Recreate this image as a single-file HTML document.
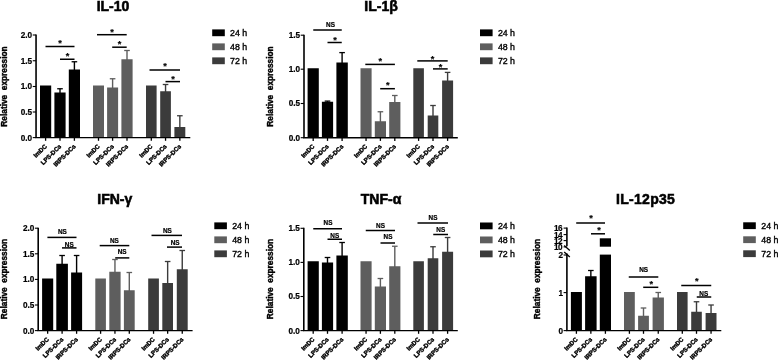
<!DOCTYPE html>
<html><head><meta charset="utf-8"><title>Relative expression</title>
<style>
html,body{margin:0;padding:0;background:#fff;}
body{width:778px;height:361px;overflow:hidden;}
svg{display:block;font-family:'Liberation Sans', sans-serif;}
</style></head><body>
<svg width="778" height="361" viewBox="0 0 778 361" font-family="'Liberation Sans', sans-serif">
<rect x="0" y="0" width="778" height="361" fill="#fff"/>
<text x="113.00" y="11.30" font-size="14" font-weight="bold" text-anchor="middle" stroke="#000" stroke-width="0.55">IL-10</text>
<rect x="40.00" y="85.50" width="11.20" height="52.10" fill="#000000"/>
<line x1="45.60" y1="137.60" x2="45.60" y2="140.80" stroke="#000" stroke-width="1.3"/>
<line x1="60.00" y1="88.75" x2="60.00" y2="93.50" stroke="#000000" stroke-width="1.4"/>
<line x1="57.20" y1="88.75" x2="62.80" y2="88.75" stroke="#000000" stroke-width="1.3"/>
<rect x="54.40" y="92.50" width="11.20" height="45.10" fill="#000000"/>
<line x1="60.00" y1="137.60" x2="60.00" y2="140.80" stroke="#000" stroke-width="1.3"/>
<line x1="74.40" y1="61.75" x2="74.40" y2="70.50" stroke="#000000" stroke-width="1.4"/>
<line x1="71.60" y1="61.75" x2="77.20" y2="61.75" stroke="#000000" stroke-width="1.3"/>
<rect x="68.80" y="69.50" width="11.20" height="68.10" fill="#000000"/>
<line x1="74.40" y1="137.60" x2="74.40" y2="140.80" stroke="#000" stroke-width="1.3"/>
<rect x="93.00" y="85.50" width="11.00" height="52.10" fill="#5e5e5e"/>
<line x1="98.50" y1="137.60" x2="98.50" y2="140.80" stroke="#000" stroke-width="1.3"/>
<line x1="112.60" y1="78.75" x2="112.60" y2="88.50" stroke="#5e5e5e" stroke-width="1.4"/>
<line x1="109.80" y1="78.75" x2="115.40" y2="78.75" stroke="#5e5e5e" stroke-width="1.3"/>
<rect x="107.10" y="87.50" width="11.00" height="50.10" fill="#5e5e5e"/>
<line x1="112.60" y1="137.60" x2="112.60" y2="140.80" stroke="#000" stroke-width="1.3"/>
<line x1="127.00" y1="50.50" x2="127.00" y2="60.25" stroke="#5e5e5e" stroke-width="1.4"/>
<line x1="124.20" y1="50.50" x2="129.80" y2="50.50" stroke="#5e5e5e" stroke-width="1.3"/>
<rect x="121.40" y="59.25" width="11.20" height="78.35" fill="#5e5e5e"/>
<line x1="127.00" y1="137.60" x2="127.00" y2="140.80" stroke="#000" stroke-width="1.3"/>
<rect x="146.00" y="85.50" width="10.60" height="52.10" fill="#3b3b3b"/>
<line x1="151.30" y1="137.60" x2="151.30" y2="140.80" stroke="#000" stroke-width="1.3"/>
<line x1="165.55" y1="84.50" x2="165.55" y2="92.25" stroke="#3b3b3b" stroke-width="1.4"/>
<line x1="162.75" y1="84.50" x2="168.35" y2="84.50" stroke="#3b3b3b" stroke-width="1.3"/>
<rect x="160.20" y="91.25" width="10.70" height="46.35" fill="#3b3b3b"/>
<line x1="165.55" y1="137.60" x2="165.55" y2="140.80" stroke="#000" stroke-width="1.3"/>
<line x1="179.85" y1="115.75" x2="179.85" y2="128.00" stroke="#3b3b3b" stroke-width="1.4"/>
<line x1="177.05" y1="115.75" x2="182.65" y2="115.75" stroke="#3b3b3b" stroke-width="1.3"/>
<rect x="174.40" y="127.00" width="10.90" height="10.60" fill="#3b3b3b"/>
<line x1="179.85" y1="137.60" x2="179.85" y2="140.80" stroke="#000" stroke-width="1.3"/>
<text transform="translate(43.90,143.40) rotate(-45)" font-size="6.1" font-weight="bold" text-anchor="end" dominant-baseline="hanging" stroke="#000" stroke-width="0.4">ImDC</text>
<text transform="translate(58.30,143.40) rotate(-45)" font-size="6.1" font-weight="bold" text-anchor="end" dominant-baseline="hanging" stroke="#000" stroke-width="0.4">LPS-DCs</text>
<text transform="translate(72.70,143.40) rotate(-45)" font-size="6.1" font-weight="bold" text-anchor="end" dominant-baseline="hanging" stroke="#000" stroke-width="0.4">IRPS-DCs</text>
<text transform="translate(96.80,143.40) rotate(-45)" font-size="6.1" font-weight="bold" text-anchor="end" dominant-baseline="hanging" stroke="#000" stroke-width="0.4">ImDC</text>
<text transform="translate(110.90,143.40) rotate(-45)" font-size="6.1" font-weight="bold" text-anchor="end" dominant-baseline="hanging" stroke="#000" stroke-width="0.4">LPS-DCs</text>
<text transform="translate(125.30,143.40) rotate(-45)" font-size="6.1" font-weight="bold" text-anchor="end" dominant-baseline="hanging" stroke="#000" stroke-width="0.4">IRPS-DCs</text>
<text transform="translate(149.60,143.40) rotate(-45)" font-size="6.1" font-weight="bold" text-anchor="end" dominant-baseline="hanging" stroke="#000" stroke-width="0.4">ImDC</text>
<text transform="translate(163.85,143.40) rotate(-45)" font-size="6.1" font-weight="bold" text-anchor="end" dominant-baseline="hanging" stroke="#000" stroke-width="0.4">LPS-DCs</text>
<text transform="translate(178.15,143.40) rotate(-45)" font-size="6.1" font-weight="bold" text-anchor="end" dominant-baseline="hanging" stroke="#000" stroke-width="0.4">IRPS-DCs</text>
<line x1="35.25" y1="137.60" x2="190.30" y2="137.60" stroke="#000" stroke-width="1.4"/>
<line x1="36.05" y1="34.50" x2="36.05" y2="137.60" stroke="#000" stroke-width="1.6"/>
<line x1="32.75" y1="137.60" x2="36.05" y2="137.60" stroke="#000" stroke-width="1.1"/>
<text x="32.15" y="140.50" font-size="8.2" font-weight="bold" text-anchor="end" stroke="#000" stroke-width="0.2">0.0</text>
<line x1="32.75" y1="112.00" x2="36.05" y2="112.00" stroke="#000" stroke-width="1.1"/>
<text x="32.15" y="114.90" font-size="8.2" font-weight="bold" text-anchor="end" stroke="#000" stroke-width="0.2">0.5</text>
<line x1="32.75" y1="86.50" x2="36.05" y2="86.50" stroke="#000" stroke-width="1.1"/>
<text x="32.15" y="89.40" font-size="8.2" font-weight="bold" text-anchor="end" stroke="#000" stroke-width="0.2">1.0</text>
<line x1="32.75" y1="60.75" x2="36.05" y2="60.75" stroke="#000" stroke-width="1.1"/>
<text x="32.15" y="63.65" font-size="8.2" font-weight="bold" text-anchor="end" stroke="#000" stroke-width="0.2">1.5</text>
<line x1="32.75" y1="35.00" x2="36.05" y2="35.00" stroke="#000" stroke-width="1.1"/>
<text x="32.15" y="37.90" font-size="8.2" font-weight="bold" text-anchor="end" stroke="#000" stroke-width="0.2">2.0</text>
<line x1="45.50" y1="46.50" x2="74.50" y2="46.50" stroke="#000" stroke-width="1.5"/>
<text x="60.00" y="46.20" font-size="9.2" font-weight="bold" text-anchor="middle" stroke="#000" stroke-width="0.2">*</text>
<line x1="60.00" y1="59.25" x2="74.50" y2="59.25" stroke="#000" stroke-width="1.5"/>
<text x="67.50" y="59.20" font-size="9.2" font-weight="bold" text-anchor="middle" stroke="#000" stroke-width="0.2">*</text>
<line x1="97.00" y1="34.70" x2="126.70" y2="34.70" stroke="#000" stroke-width="1.5"/>
<text x="112.00" y="34.50" font-size="9.2" font-weight="bold" text-anchor="middle" stroke="#000" stroke-width="0.2">*</text>
<line x1="112.20" y1="47.20" x2="126.70" y2="47.20" stroke="#000" stroke-width="1.5"/>
<text x="119.50" y="47.20" font-size="9.2" font-weight="bold" text-anchor="middle" stroke="#000" stroke-width="0.2">*</text>
<line x1="149.50" y1="70.00" x2="180.00" y2="70.00" stroke="#000" stroke-width="1.5"/>
<text x="165.00" y="69.20" font-size="9.2" font-weight="bold" text-anchor="middle" stroke="#000" stroke-width="0.2">*</text>
<line x1="165.50" y1="81.60" x2="180.00" y2="81.60" stroke="#000" stroke-width="1.5"/>
<text x="173.00" y="81.90" font-size="9.2" font-weight="bold" text-anchor="middle" stroke="#000" stroke-width="0.2">*</text>
<text transform="translate(7.10,86.50) rotate(-90)" font-size="8.3" font-weight="bold" text-anchor="middle" stroke="#000" stroke-width="0.4">Relative&#160;&#160;expression</text>
<rect x="212.20" y="29.40" width="12.60" height="6.80" fill="#000000"/>
<text x="230.00" y="36.00" font-size="8.8" font-weight="normal" text-anchor="start" stroke="#000" stroke-width="0.35">24 h</text>
<rect x="212.20" y="43.40" width="12.60" height="6.80" fill="#5e5e5e"/>
<text x="230.00" y="50.00" font-size="8.8" font-weight="normal" text-anchor="start" stroke="#000" stroke-width="0.35">48 h</text>
<rect x="212.20" y="57.40" width="12.60" height="6.80" fill="#3b3b3b"/>
<text x="230.00" y="64.00" font-size="8.8" font-weight="normal" text-anchor="start" stroke="#000" stroke-width="0.35">72 h</text>
<rect x="480.00" y="29.40" width="12.60" height="6.80" fill="#000000"/>
<text x="497.90" y="36.00" font-size="8.8" font-weight="normal" text-anchor="start" stroke="#000" stroke-width="0.35">24 h</text>
<rect x="480.00" y="43.40" width="12.60" height="6.80" fill="#5e5e5e"/>
<text x="497.90" y="50.00" font-size="8.8" font-weight="normal" text-anchor="start" stroke="#000" stroke-width="0.35">48 h</text>
<rect x="480.00" y="57.40" width="12.60" height="6.80" fill="#3b3b3b"/>
<text x="497.90" y="64.00" font-size="8.8" font-weight="normal" text-anchor="start" stroke="#000" stroke-width="0.35">72 h</text>
<text x="381.00" y="11.30" font-size="14" font-weight="bold" text-anchor="middle" stroke="#000" stroke-width="0.55">IL-1β</text>
<rect x="307.60" y="68.25" width="11.20" height="69.45" fill="#000000"/>
<line x1="313.20" y1="137.70" x2="313.20" y2="140.90" stroke="#000" stroke-width="1.3"/>
<line x1="327.50" y1="101.10" x2="327.50" y2="102.75" stroke="#000000" stroke-width="1.4"/>
<line x1="324.70" y1="101.10" x2="330.30" y2="101.10" stroke="#000000" stroke-width="1.3"/>
<rect x="321.90" y="101.75" width="11.20" height="35.95" fill="#000000"/>
<line x1="327.50" y1="137.70" x2="327.50" y2="140.90" stroke="#000" stroke-width="1.3"/>
<line x1="342.10" y1="52.60" x2="342.10" y2="63.50" stroke="#000000" stroke-width="1.4"/>
<line x1="339.30" y1="52.60" x2="344.90" y2="52.60" stroke="#000000" stroke-width="1.3"/>
<rect x="336.40" y="62.50" width="11.40" height="75.20" fill="#000000"/>
<line x1="342.10" y1="137.70" x2="342.10" y2="140.90" stroke="#000" stroke-width="1.3"/>
<rect x="360.50" y="68.25" width="11.10" height="69.45" fill="#5e5e5e"/>
<line x1="366.05" y1="137.70" x2="366.05" y2="140.90" stroke="#000" stroke-width="1.3"/>
<line x1="380.40" y1="111.75" x2="380.40" y2="122.25" stroke="#5e5e5e" stroke-width="1.4"/>
<line x1="377.60" y1="111.75" x2="383.20" y2="111.75" stroke="#5e5e5e" stroke-width="1.3"/>
<rect x="374.80" y="121.25" width="11.20" height="16.45" fill="#5e5e5e"/>
<line x1="380.40" y1="137.70" x2="380.40" y2="140.90" stroke="#000" stroke-width="1.3"/>
<line x1="394.80" y1="95.50" x2="394.80" y2="103.00" stroke="#5e5e5e" stroke-width="1.4"/>
<line x1="392.00" y1="95.50" x2="397.60" y2="95.50" stroke="#5e5e5e" stroke-width="1.3"/>
<rect x="389.20" y="102.00" width="11.20" height="35.70" fill="#5e5e5e"/>
<line x1="394.80" y1="137.70" x2="394.80" y2="140.90" stroke="#000" stroke-width="1.3"/>
<rect x="413.30" y="68.25" width="10.60" height="69.45" fill="#3b3b3b"/>
<line x1="418.60" y1="137.70" x2="418.60" y2="140.90" stroke="#000" stroke-width="1.3"/>
<line x1="433.00" y1="105.50" x2="433.00" y2="116.50" stroke="#3b3b3b" stroke-width="1.4"/>
<line x1="430.20" y1="105.50" x2="435.80" y2="105.50" stroke="#3b3b3b" stroke-width="1.3"/>
<rect x="427.70" y="115.50" width="10.60" height="22.20" fill="#3b3b3b"/>
<line x1="433.00" y1="137.70" x2="433.00" y2="140.90" stroke="#000" stroke-width="1.3"/>
<line x1="447.60" y1="72.40" x2="447.60" y2="81.50" stroke="#3b3b3b" stroke-width="1.4"/>
<line x1="444.80" y1="72.40" x2="450.40" y2="72.40" stroke="#3b3b3b" stroke-width="1.3"/>
<rect x="442.10" y="80.50" width="11.00" height="57.20" fill="#3b3b3b"/>
<line x1="447.60" y1="137.70" x2="447.60" y2="140.90" stroke="#000" stroke-width="1.3"/>
<text transform="translate(311.50,143.50) rotate(-45)" font-size="6.1" font-weight="bold" text-anchor="end" dominant-baseline="hanging" stroke="#000" stroke-width="0.4">ImDC</text>
<text transform="translate(325.80,143.50) rotate(-45)" font-size="6.1" font-weight="bold" text-anchor="end" dominant-baseline="hanging" stroke="#000" stroke-width="0.4">LPS-DCs</text>
<text transform="translate(340.40,143.50) rotate(-45)" font-size="6.1" font-weight="bold" text-anchor="end" dominant-baseline="hanging" stroke="#000" stroke-width="0.4">IRPS-DCs</text>
<text transform="translate(364.35,143.50) rotate(-45)" font-size="6.1" font-weight="bold" text-anchor="end" dominant-baseline="hanging" stroke="#000" stroke-width="0.4">ImDC</text>
<text transform="translate(378.70,143.50) rotate(-45)" font-size="6.1" font-weight="bold" text-anchor="end" dominant-baseline="hanging" stroke="#000" stroke-width="0.4">LPS-DCs</text>
<text transform="translate(393.10,143.50) rotate(-45)" font-size="6.1" font-weight="bold" text-anchor="end" dominant-baseline="hanging" stroke="#000" stroke-width="0.4">IRPS-DCs</text>
<text transform="translate(416.90,143.50) rotate(-45)" font-size="6.1" font-weight="bold" text-anchor="end" dominant-baseline="hanging" stroke="#000" stroke-width="0.4">ImDC</text>
<text transform="translate(431.30,143.50) rotate(-45)" font-size="6.1" font-weight="bold" text-anchor="end" dominant-baseline="hanging" stroke="#000" stroke-width="0.4">LPS-DCs</text>
<text transform="translate(445.90,143.50) rotate(-45)" font-size="6.1" font-weight="bold" text-anchor="end" dominant-baseline="hanging" stroke="#000" stroke-width="0.4">IRPS-DCs</text>
<line x1="303.20" y1="137.70" x2="457.80" y2="137.70" stroke="#000" stroke-width="1.4"/>
<line x1="304.00" y1="34.70" x2="304.00" y2="137.70" stroke="#000" stroke-width="1.6"/>
<line x1="300.70" y1="137.70" x2="304.00" y2="137.70" stroke="#000" stroke-width="1.1"/>
<text x="300.10" y="140.60" font-size="8.2" font-weight="bold" text-anchor="end" stroke="#000" stroke-width="0.2">0.0</text>
<line x1="300.70" y1="103.50" x2="304.00" y2="103.50" stroke="#000" stroke-width="1.1"/>
<text x="300.10" y="106.40" font-size="8.2" font-weight="bold" text-anchor="end" stroke="#000" stroke-width="0.2">0.5</text>
<line x1="300.70" y1="69.20" x2="304.00" y2="69.20" stroke="#000" stroke-width="1.1"/>
<text x="300.10" y="72.10" font-size="8.2" font-weight="bold" text-anchor="end" stroke="#000" stroke-width="0.2">1.0</text>
<line x1="300.70" y1="35.20" x2="304.00" y2="35.20" stroke="#000" stroke-width="1.1"/>
<text x="300.10" y="38.10" font-size="8.2" font-weight="bold" text-anchor="end" stroke="#000" stroke-width="0.2">1.5</text>
<line x1="313.25" y1="30.00" x2="341.75" y2="30.00" stroke="#000" stroke-width="1.5"/>
<text x="330.50" y="27.40" font-size="6.4" font-weight="bold" text-anchor="middle" stroke="#000" stroke-width="0.2">NS</text>
<line x1="327.50" y1="42.50" x2="341.75" y2="42.50" stroke="#000" stroke-width="1.5"/>
<text x="335.00" y="42.95" font-size="9.2" font-weight="bold" text-anchor="middle" stroke="#000" stroke-width="0.2">*</text>
<line x1="365.30" y1="64.40" x2="394.90" y2="64.40" stroke="#000" stroke-width="1.5"/>
<text x="380.20" y="63.80" font-size="9.2" font-weight="bold" text-anchor="middle" stroke="#000" stroke-width="0.2">*</text>
<line x1="380.20" y1="88.70" x2="394.90" y2="88.70" stroke="#000" stroke-width="1.5"/>
<text x="387.70" y="88.20" font-size="9.2" font-weight="bold" text-anchor="middle" stroke="#000" stroke-width="0.2">*</text>
<line x1="417.30" y1="60.90" x2="447.70" y2="60.90" stroke="#000" stroke-width="1.5"/>
<text x="432.60" y="62.10" font-size="9.2" font-weight="bold" text-anchor="middle" stroke="#000" stroke-width="0.2">*</text>
<line x1="433.00" y1="68.90" x2="447.70" y2="68.90" stroke="#000" stroke-width="1.5"/>
<text x="440.50" y="69.90" font-size="9.2" font-weight="bold" text-anchor="middle" stroke="#000" stroke-width="0.2">*</text>
<text transform="translate(273.00,86.50) rotate(-90)" font-size="8.3" font-weight="bold" text-anchor="middle" stroke="#000" stroke-width="0.4">Relative&#160;&#160;expression</text>
<text x="114.75" y="204.30" font-size="14" font-weight="bold" text-anchor="middle" stroke="#000" stroke-width="0.55">IFN-γ</text>
<rect x="42.10" y="278.50" width="11.10" height="52.10" fill="#000000"/>
<line x1="47.65" y1="330.60" x2="47.65" y2="333.80" stroke="#000" stroke-width="1.3"/>
<line x1="62.10" y1="255.50" x2="62.10" y2="264.75" stroke="#000000" stroke-width="1.4"/>
<line x1="59.30" y1="255.50" x2="64.90" y2="255.50" stroke="#000000" stroke-width="1.3"/>
<rect x="56.30" y="263.75" width="11.60" height="66.85" fill="#000000"/>
<line x1="62.10" y1="330.60" x2="62.10" y2="333.80" stroke="#000" stroke-width="1.3"/>
<line x1="76.60" y1="255.50" x2="76.60" y2="273.50" stroke="#000000" stroke-width="1.4"/>
<line x1="73.80" y1="255.50" x2="79.40" y2="255.50" stroke="#000000" stroke-width="1.3"/>
<rect x="71.10" y="272.50" width="11.00" height="58.10" fill="#000000"/>
<line x1="76.60" y1="330.60" x2="76.60" y2="333.80" stroke="#000" stroke-width="1.3"/>
<rect x="95.30" y="278.50" width="10.60" height="52.10" fill="#5e5e5e"/>
<line x1="100.60" y1="330.60" x2="100.60" y2="333.80" stroke="#000" stroke-width="1.3"/>
<line x1="114.95" y1="259.50" x2="114.95" y2="272.75" stroke="#5e5e5e" stroke-width="1.4"/>
<line x1="112.15" y1="259.50" x2="117.75" y2="259.50" stroke="#5e5e5e" stroke-width="1.3"/>
<rect x="109.30" y="271.75" width="11.30" height="58.85" fill="#5e5e5e"/>
<line x1="114.95" y1="330.60" x2="114.95" y2="333.80" stroke="#000" stroke-width="1.3"/>
<line x1="129.30" y1="272.50" x2="129.30" y2="291.25" stroke="#5e5e5e" stroke-width="1.4"/>
<line x1="126.50" y1="272.50" x2="132.10" y2="272.50" stroke="#5e5e5e" stroke-width="1.3"/>
<rect x="123.90" y="290.25" width="10.80" height="40.35" fill="#5e5e5e"/>
<line x1="129.30" y1="330.60" x2="129.30" y2="333.80" stroke="#000" stroke-width="1.3"/>
<rect x="148.20" y="278.50" width="10.70" height="52.10" fill="#3b3b3b"/>
<line x1="153.55" y1="330.60" x2="153.55" y2="333.80" stroke="#000" stroke-width="1.3"/>
<line x1="167.65" y1="261.50" x2="167.65" y2="284.00" stroke="#3b3b3b" stroke-width="1.4"/>
<line x1="164.85" y1="261.50" x2="170.45" y2="261.50" stroke="#3b3b3b" stroke-width="1.3"/>
<rect x="162.30" y="283.00" width="10.70" height="47.60" fill="#3b3b3b"/>
<line x1="167.65" y1="330.60" x2="167.65" y2="333.80" stroke="#000" stroke-width="1.3"/>
<line x1="182.25" y1="250.50" x2="182.25" y2="270.25" stroke="#3b3b3b" stroke-width="1.4"/>
<line x1="179.45" y1="250.50" x2="185.05" y2="250.50" stroke="#3b3b3b" stroke-width="1.3"/>
<rect x="176.80" y="269.25" width="10.90" height="61.35" fill="#3b3b3b"/>
<line x1="182.25" y1="330.60" x2="182.25" y2="333.80" stroke="#000" stroke-width="1.3"/>
<text transform="translate(45.95,336.40) rotate(-45)" font-size="6.1" font-weight="bold" text-anchor="end" dominant-baseline="hanging" stroke="#000" stroke-width="0.4">ImDC</text>
<text transform="translate(60.40,336.40) rotate(-45)" font-size="6.1" font-weight="bold" text-anchor="end" dominant-baseline="hanging" stroke="#000" stroke-width="0.4">LPS-DCs</text>
<text transform="translate(74.90,336.40) rotate(-45)" font-size="6.1" font-weight="bold" text-anchor="end" dominant-baseline="hanging" stroke="#000" stroke-width="0.4">IRPS-DCs</text>
<text transform="translate(98.90,336.40) rotate(-45)" font-size="6.1" font-weight="bold" text-anchor="end" dominant-baseline="hanging" stroke="#000" stroke-width="0.4">ImDC</text>
<text transform="translate(113.25,336.40) rotate(-45)" font-size="6.1" font-weight="bold" text-anchor="end" dominant-baseline="hanging" stroke="#000" stroke-width="0.4">LPS-DCs</text>
<text transform="translate(127.60,336.40) rotate(-45)" font-size="6.1" font-weight="bold" text-anchor="end" dominant-baseline="hanging" stroke="#000" stroke-width="0.4">IRPS-DCs</text>
<text transform="translate(151.85,336.40) rotate(-45)" font-size="6.1" font-weight="bold" text-anchor="end" dominant-baseline="hanging" stroke="#000" stroke-width="0.4">ImDC</text>
<text transform="translate(165.95,336.40) rotate(-45)" font-size="6.1" font-weight="bold" text-anchor="end" dominant-baseline="hanging" stroke="#000" stroke-width="0.4">LPS-DCs</text>
<text transform="translate(180.55,336.40) rotate(-45)" font-size="6.1" font-weight="bold" text-anchor="end" dominant-baseline="hanging" stroke="#000" stroke-width="0.4">IRPS-DCs</text>
<line x1="37.40" y1="330.60" x2="192.60" y2="330.60" stroke="#000" stroke-width="1.4"/>
<line x1="38.20" y1="227.70" x2="38.20" y2="330.60" stroke="#000" stroke-width="1.6"/>
<line x1="34.90" y1="330.60" x2="38.20" y2="330.60" stroke="#000" stroke-width="1.1"/>
<text x="34.30" y="333.50" font-size="8.2" font-weight="bold" text-anchor="end" stroke="#000" stroke-width="0.2">0.0</text>
<line x1="34.90" y1="305.00" x2="38.20" y2="305.00" stroke="#000" stroke-width="1.1"/>
<text x="34.30" y="307.90" font-size="8.2" font-weight="bold" text-anchor="end" stroke="#000" stroke-width="0.2">0.5</text>
<line x1="34.90" y1="279.40" x2="38.20" y2="279.40" stroke="#000" stroke-width="1.1"/>
<text x="34.30" y="282.30" font-size="8.2" font-weight="bold" text-anchor="end" stroke="#000" stroke-width="0.2">1.0</text>
<line x1="34.90" y1="253.80" x2="38.20" y2="253.80" stroke="#000" stroke-width="1.1"/>
<text x="34.30" y="256.70" font-size="8.2" font-weight="bold" text-anchor="end" stroke="#000" stroke-width="0.2">1.5</text>
<line x1="34.90" y1="228.20" x2="38.20" y2="228.20" stroke="#000" stroke-width="1.1"/>
<text x="34.30" y="231.10" font-size="8.2" font-weight="bold" text-anchor="end" stroke="#000" stroke-width="0.2">2.0</text>
<line x1="47.40" y1="237.40" x2="76.50" y2="237.40" stroke="#000" stroke-width="1.5"/>
<text x="62.40" y="233.90" font-size="6.4" font-weight="bold" text-anchor="middle" stroke="#000" stroke-width="0.2">NS</text>
<line x1="62.00" y1="247.90" x2="76.50" y2="247.90" stroke="#000" stroke-width="1.5"/>
<text x="69.30" y="247.20" font-size="6.4" font-weight="bold" text-anchor="middle" stroke="#000" stroke-width="0.2">NS</text>
<line x1="99.70" y1="245.60" x2="129.30" y2="245.60" stroke="#000" stroke-width="1.5"/>
<text x="114.40" y="243.00" font-size="6.4" font-weight="bold" text-anchor="middle" stroke="#000" stroke-width="0.2">NS</text>
<line x1="115.20" y1="257.90" x2="129.30" y2="257.90" stroke="#000" stroke-width="1.5"/>
<text x="122.20" y="254.30" font-size="6.4" font-weight="bold" text-anchor="middle" stroke="#000" stroke-width="0.2">NS</text>
<line x1="151.50" y1="235.40" x2="182.00" y2="235.40" stroke="#000" stroke-width="1.5"/>
<text x="167.40" y="233.10" font-size="6.4" font-weight="bold" text-anchor="middle" stroke="#000" stroke-width="0.2">NS</text>
<line x1="167.00" y1="247.10" x2="182.00" y2="247.10" stroke="#000" stroke-width="1.5"/>
<text x="175.20" y="244.70" font-size="6.4" font-weight="bold" text-anchor="middle" stroke="#000" stroke-width="0.2">NS</text>
<text transform="translate(7.10,279.00) rotate(-90)" font-size="8.3" font-weight="bold" text-anchor="middle" stroke="#000" stroke-width="0.4">Relative&#160;&#160;expression</text>
<rect x="214.30" y="222.40" width="12.60" height="6.80" fill="#000000"/>
<text x="232.20" y="229.00" font-size="8.8" font-weight="normal" text-anchor="start" stroke="#000" stroke-width="0.35">24 h</text>
<rect x="214.30" y="236.40" width="12.60" height="6.80" fill="#5e5e5e"/>
<text x="232.20" y="243.00" font-size="8.8" font-weight="normal" text-anchor="start" stroke="#000" stroke-width="0.35">48 h</text>
<rect x="214.30" y="250.40" width="12.60" height="6.80" fill="#3b3b3b"/>
<text x="232.20" y="257.00" font-size="8.8" font-weight="normal" text-anchor="start" stroke="#000" stroke-width="0.35">72 h</text>
<rect x="480.00" y="222.50" width="12.60" height="6.80" fill="#000000"/>
<text x="497.90" y="229.10" font-size="8.8" font-weight="normal" text-anchor="start" stroke="#000" stroke-width="0.35">24 h</text>
<rect x="480.00" y="236.50" width="12.60" height="6.80" fill="#5e5e5e"/>
<text x="497.90" y="243.10" font-size="8.8" font-weight="normal" text-anchor="start" stroke="#000" stroke-width="0.35">48 h</text>
<rect x="480.00" y="250.50" width="12.60" height="6.80" fill="#3b3b3b"/>
<text x="497.90" y="257.10" font-size="8.8" font-weight="normal" text-anchor="start" stroke="#000" stroke-width="0.35">72 h</text>
<text x="381.00" y="204.30" font-size="14" font-weight="bold" text-anchor="middle" stroke="#000" stroke-width="0.55">TNF-α</text>
<rect x="307.60" y="261.25" width="11.20" height="69.35" fill="#000000"/>
<line x1="313.20" y1="330.60" x2="313.20" y2="333.80" stroke="#000" stroke-width="1.3"/>
<line x1="327.50" y1="257.50" x2="327.50" y2="263.50" stroke="#000000" stroke-width="1.4"/>
<line x1="324.70" y1="257.50" x2="330.30" y2="257.50" stroke="#000000" stroke-width="1.3"/>
<rect x="321.90" y="262.50" width="11.20" height="68.10" fill="#000000"/>
<line x1="327.50" y1="330.60" x2="327.50" y2="333.80" stroke="#000" stroke-width="1.3"/>
<line x1="342.10" y1="242.50" x2="342.10" y2="256.50" stroke="#000000" stroke-width="1.4"/>
<line x1="339.30" y1="242.50" x2="344.90" y2="242.50" stroke="#000000" stroke-width="1.3"/>
<rect x="336.40" y="255.50" width="11.40" height="75.10" fill="#000000"/>
<line x1="342.10" y1="330.60" x2="342.10" y2="333.80" stroke="#000" stroke-width="1.3"/>
<rect x="360.50" y="261.25" width="11.10" height="69.35" fill="#5e5e5e"/>
<line x1="366.05" y1="330.60" x2="366.05" y2="333.80" stroke="#000" stroke-width="1.3"/>
<line x1="380.40" y1="278.50" x2="380.40" y2="287.50" stroke="#5e5e5e" stroke-width="1.4"/>
<line x1="377.60" y1="278.50" x2="383.20" y2="278.50" stroke="#5e5e5e" stroke-width="1.3"/>
<rect x="374.80" y="286.50" width="11.20" height="44.10" fill="#5e5e5e"/>
<line x1="380.40" y1="330.60" x2="380.40" y2="333.80" stroke="#000" stroke-width="1.3"/>
<line x1="394.80" y1="246.25" x2="394.80" y2="267.25" stroke="#5e5e5e" stroke-width="1.4"/>
<line x1="392.00" y1="246.25" x2="397.60" y2="246.25" stroke="#5e5e5e" stroke-width="1.3"/>
<rect x="389.20" y="266.25" width="11.20" height="64.35" fill="#5e5e5e"/>
<line x1="394.80" y1="330.60" x2="394.80" y2="333.80" stroke="#000" stroke-width="1.3"/>
<rect x="413.30" y="261.25" width="10.60" height="69.35" fill="#3b3b3b"/>
<line x1="418.60" y1="330.60" x2="418.60" y2="333.80" stroke="#000" stroke-width="1.3"/>
<line x1="433.00" y1="246.75" x2="433.00" y2="259.25" stroke="#3b3b3b" stroke-width="1.4"/>
<line x1="430.20" y1="246.75" x2="435.80" y2="246.75" stroke="#3b3b3b" stroke-width="1.3"/>
<rect x="427.70" y="258.25" width="10.60" height="72.35" fill="#3b3b3b"/>
<line x1="433.00" y1="330.60" x2="433.00" y2="333.80" stroke="#000" stroke-width="1.3"/>
<line x1="447.60" y1="237.50" x2="447.60" y2="252.75" stroke="#3b3b3b" stroke-width="1.4"/>
<line x1="444.80" y1="237.50" x2="450.40" y2="237.50" stroke="#3b3b3b" stroke-width="1.3"/>
<rect x="442.10" y="251.75" width="11.00" height="78.85" fill="#3b3b3b"/>
<line x1="447.60" y1="330.60" x2="447.60" y2="333.80" stroke="#000" stroke-width="1.3"/>
<text transform="translate(311.50,336.40) rotate(-45)" font-size="6.1" font-weight="bold" text-anchor="end" dominant-baseline="hanging" stroke="#000" stroke-width="0.4">ImDC</text>
<text transform="translate(325.80,336.40) rotate(-45)" font-size="6.1" font-weight="bold" text-anchor="end" dominant-baseline="hanging" stroke="#000" stroke-width="0.4">LPS-DCs</text>
<text transform="translate(340.40,336.40) rotate(-45)" font-size="6.1" font-weight="bold" text-anchor="end" dominant-baseline="hanging" stroke="#000" stroke-width="0.4">IRPS-DCs</text>
<text transform="translate(364.35,336.40) rotate(-45)" font-size="6.1" font-weight="bold" text-anchor="end" dominant-baseline="hanging" stroke="#000" stroke-width="0.4">ImDC</text>
<text transform="translate(378.70,336.40) rotate(-45)" font-size="6.1" font-weight="bold" text-anchor="end" dominant-baseline="hanging" stroke="#000" stroke-width="0.4">LPS-DCs</text>
<text transform="translate(393.10,336.40) rotate(-45)" font-size="6.1" font-weight="bold" text-anchor="end" dominant-baseline="hanging" stroke="#000" stroke-width="0.4">IRPS-DCs</text>
<text transform="translate(416.90,336.40) rotate(-45)" font-size="6.1" font-weight="bold" text-anchor="end" dominant-baseline="hanging" stroke="#000" stroke-width="0.4">ImDC</text>
<text transform="translate(431.30,336.40) rotate(-45)" font-size="6.1" font-weight="bold" text-anchor="end" dominant-baseline="hanging" stroke="#000" stroke-width="0.4">LPS-DCs</text>
<text transform="translate(445.90,336.40) rotate(-45)" font-size="6.1" font-weight="bold" text-anchor="end" dominant-baseline="hanging" stroke="#000" stroke-width="0.4">IRPS-DCs</text>
<line x1="303.00" y1="330.60" x2="457.80" y2="330.60" stroke="#000" stroke-width="1.4"/>
<line x1="303.80" y1="227.80" x2="303.80" y2="330.60" stroke="#000" stroke-width="1.6"/>
<line x1="300.50" y1="330.60" x2="303.80" y2="330.60" stroke="#000" stroke-width="1.1"/>
<text x="299.90" y="333.50" font-size="8.2" font-weight="bold" text-anchor="end" stroke="#000" stroke-width="0.2">0.0</text>
<line x1="300.50" y1="296.50" x2="303.80" y2="296.50" stroke="#000" stroke-width="1.1"/>
<text x="299.90" y="299.40" font-size="8.2" font-weight="bold" text-anchor="end" stroke="#000" stroke-width="0.2">0.5</text>
<line x1="300.50" y1="262.40" x2="303.80" y2="262.40" stroke="#000" stroke-width="1.1"/>
<text x="299.90" y="265.30" font-size="8.2" font-weight="bold" text-anchor="end" stroke="#000" stroke-width="0.2">1.0</text>
<line x1="300.50" y1="228.30" x2="303.80" y2="228.30" stroke="#000" stroke-width="1.1"/>
<text x="299.90" y="231.20" font-size="8.2" font-weight="bold" text-anchor="end" stroke="#000" stroke-width="0.2">1.5</text>
<line x1="313.25" y1="228.75" x2="342.00" y2="228.75" stroke="#000" stroke-width="1.5"/>
<text x="328.00" y="224.70" font-size="6.4" font-weight="bold" text-anchor="middle" stroke="#000" stroke-width="0.2">NS</text>
<line x1="327.50" y1="239.25" x2="342.00" y2="239.25" stroke="#000" stroke-width="1.5"/>
<text x="334.80" y="237.50" font-size="6.4" font-weight="bold" text-anchor="middle" stroke="#000" stroke-width="0.2">NS</text>
<line x1="365.75" y1="230.50" x2="395.00" y2="230.50" stroke="#000" stroke-width="1.5"/>
<text x="380.50" y="227.80" font-size="6.4" font-weight="bold" text-anchor="middle" stroke="#000" stroke-width="0.2">NS</text>
<line x1="380.50" y1="243.00" x2="395.00" y2="243.00" stroke="#000" stroke-width="1.5"/>
<text x="388.00" y="239.30" font-size="6.4" font-weight="bold" text-anchor="middle" stroke="#000" stroke-width="0.2">NS</text>
<line x1="417.50" y1="223.00" x2="448.00" y2="223.00" stroke="#000" stroke-width="1.5"/>
<text x="433.00" y="220.30" font-size="6.4" font-weight="bold" text-anchor="middle" stroke="#000" stroke-width="0.2">NS</text>
<line x1="433.25" y1="234.50" x2="448.00" y2="234.50" stroke="#000" stroke-width="1.5"/>
<text x="440.75" y="232.30" font-size="6.4" font-weight="bold" text-anchor="middle" stroke="#000" stroke-width="0.2">NS</text>
<text transform="translate(273.00,279.00) rotate(-90)" font-size="8.3" font-weight="bold" text-anchor="middle" stroke="#000" stroke-width="0.4">Relative&#160;&#160;expression</text>
<text x="645.60" y="204.30" font-size="14" font-weight="bold" text-anchor="middle" stroke="#000" stroke-width="0.55" letter-spacing="0.3">IL-12p35</text>
<rect x="570.90" y="292.00" width="11.00" height="38.60" fill="#000000"/>
<line x1="576.40" y1="330.60" x2="576.40" y2="333.80" stroke="#000" stroke-width="1.3"/>
<line x1="590.85" y1="270.50" x2="590.85" y2="277.25" stroke="#000000" stroke-width="1.4"/>
<line x1="588.05" y1="270.50" x2="593.65" y2="270.50" stroke="#000000" stroke-width="1.3"/>
<rect x="585.10" y="276.25" width="11.50" height="54.35" fill="#000000"/>
<line x1="590.85" y1="330.60" x2="590.85" y2="333.80" stroke="#000" stroke-width="1.3"/>
<rect x="599.80" y="238.30" width="11.20" height="92.30" fill="#000000"/>
<line x1="605.40" y1="330.60" x2="605.40" y2="333.80" stroke="#000" stroke-width="1.3"/>
<rect x="624.00" y="292.00" width="10.80" height="38.60" fill="#5e5e5e"/>
<line x1="629.40" y1="330.60" x2="629.40" y2="333.80" stroke="#000" stroke-width="1.3"/>
<line x1="643.50" y1="308.00" x2="643.50" y2="316.75" stroke="#5e5e5e" stroke-width="1.4"/>
<line x1="640.70" y1="308.00" x2="646.30" y2="308.00" stroke="#5e5e5e" stroke-width="1.3"/>
<rect x="638.10" y="315.75" width="10.80" height="14.85" fill="#5e5e5e"/>
<line x1="643.50" y1="330.60" x2="643.50" y2="333.80" stroke="#000" stroke-width="1.3"/>
<line x1="658.25" y1="292.50" x2="658.25" y2="298.50" stroke="#5e5e5e" stroke-width="1.4"/>
<line x1="655.45" y1="292.50" x2="661.05" y2="292.50" stroke="#5e5e5e" stroke-width="1.3"/>
<rect x="652.60" y="297.50" width="11.30" height="33.10" fill="#5e5e5e"/>
<line x1="658.25" y1="330.60" x2="658.25" y2="333.80" stroke="#000" stroke-width="1.3"/>
<rect x="677.00" y="292.00" width="10.60" height="38.60" fill="#3b3b3b"/>
<line x1="682.30" y1="330.60" x2="682.30" y2="333.80" stroke="#000" stroke-width="1.3"/>
<line x1="696.50" y1="301.75" x2="696.50" y2="312.75" stroke="#3b3b3b" stroke-width="1.4"/>
<line x1="693.70" y1="301.75" x2="699.30" y2="301.75" stroke="#3b3b3b" stroke-width="1.3"/>
<rect x="691.20" y="311.75" width="10.60" height="18.85" fill="#3b3b3b"/>
<line x1="696.50" y1="330.60" x2="696.50" y2="333.80" stroke="#000" stroke-width="1.3"/>
<line x1="711.05" y1="305.00" x2="711.05" y2="314.00" stroke="#3b3b3b" stroke-width="1.4"/>
<line x1="708.25" y1="305.00" x2="713.85" y2="305.00" stroke="#3b3b3b" stroke-width="1.3"/>
<rect x="705.60" y="313.00" width="10.90" height="17.60" fill="#3b3b3b"/>
<line x1="711.05" y1="330.60" x2="711.05" y2="333.80" stroke="#000" stroke-width="1.3"/>
<rect x="599.00" y="246.70" width="13.25" height="7.90" fill="#fff"/>
<text transform="translate(574.70,336.40) rotate(-45)" font-size="6.1" font-weight="bold" text-anchor="end" dominant-baseline="hanging" stroke="#000" stroke-width="0.4">ImDC</text>
<text transform="translate(589.15,336.40) rotate(-45)" font-size="6.1" font-weight="bold" text-anchor="end" dominant-baseline="hanging" stroke="#000" stroke-width="0.4">LPS-DCs</text>
<text transform="translate(603.70,336.40) rotate(-45)" font-size="6.1" font-weight="bold" text-anchor="end" dominant-baseline="hanging" stroke="#000" stroke-width="0.4">IRPS-DCs</text>
<text transform="translate(627.70,336.40) rotate(-45)" font-size="6.1" font-weight="bold" text-anchor="end" dominant-baseline="hanging" stroke="#000" stroke-width="0.4">ImDC</text>
<text transform="translate(641.80,336.40) rotate(-45)" font-size="6.1" font-weight="bold" text-anchor="end" dominant-baseline="hanging" stroke="#000" stroke-width="0.4">LPS-DCs</text>
<text transform="translate(656.55,336.40) rotate(-45)" font-size="6.1" font-weight="bold" text-anchor="end" dominant-baseline="hanging" stroke="#000" stroke-width="0.4">IRPS-DCs</text>
<text transform="translate(680.60,336.40) rotate(-45)" font-size="6.1" font-weight="bold" text-anchor="end" dominant-baseline="hanging" stroke="#000" stroke-width="0.4">ImDC</text>
<text transform="translate(694.80,336.40) rotate(-45)" font-size="6.1" font-weight="bold" text-anchor="end" dominant-baseline="hanging" stroke="#000" stroke-width="0.4">LPS-DCs</text>
<text transform="translate(709.35,336.40) rotate(-45)" font-size="6.1" font-weight="bold" text-anchor="end" dominant-baseline="hanging" stroke="#000" stroke-width="0.4">IRPS-DCs</text>
<line x1="566.10" y1="330.60" x2="721.30" y2="330.60" stroke="#000" stroke-width="1.4"/>
<line x1="563.60" y1="330.60" x2="566.90" y2="330.60" stroke="#000" stroke-width="1.1"/>
<text x="563.00" y="333.50" font-size="8.2" font-weight="bold" text-anchor="end" stroke="#000" stroke-width="0.2">0</text>
<line x1="563.60" y1="292.60" x2="566.90" y2="292.60" stroke="#000" stroke-width="1.1"/>
<text x="563.00" y="295.50" font-size="8.2" font-weight="bold" text-anchor="end" stroke="#000" stroke-width="0.2">1</text>
<line x1="563.60" y1="255.00" x2="566.90" y2="255.00" stroke="#000" stroke-width="1.1"/>
<text x="563.00" y="257.90" font-size="8.2" font-weight="bold" text-anchor="end" stroke="#000" stroke-width="0.2">2</text>
<line x1="563.60" y1="246.90" x2="566.90" y2="246.90" stroke="#000" stroke-width="1.1"/>
<text x="562.00" y="249.80" font-size="8.2" font-weight="bold" text-anchor="end" stroke="#000" stroke-width="0.2" letter-spacing="-0.6">10</text>
<line x1="563.60" y1="240.60" x2="566.90" y2="240.60" stroke="#000" stroke-width="1.1"/>
<text x="562.00" y="243.50" font-size="8.2" font-weight="bold" text-anchor="end" stroke="#000" stroke-width="0.2" letter-spacing="-0.6">12</text>
<line x1="563.60" y1="234.60" x2="566.90" y2="234.60" stroke="#000" stroke-width="1.1"/>
<text x="562.00" y="237.50" font-size="8.2" font-weight="bold" text-anchor="end" stroke="#000" stroke-width="0.2" letter-spacing="-0.6">14</text>
<line x1="563.60" y1="228.10" x2="566.90" y2="228.10" stroke="#000" stroke-width="1.1"/>
<text x="562.00" y="231.00" font-size="8.2" font-weight="bold" text-anchor="end" stroke="#000" stroke-width="0.2" letter-spacing="-0.6">16</text>
<line x1="576.20" y1="223.00" x2="605.00" y2="223.00" stroke="#000" stroke-width="1.5"/>
<text x="591.00" y="220.50" font-size="9.2" font-weight="bold" text-anchor="middle" stroke="#000" stroke-width="0.2">*</text>
<line x1="591.00" y1="233.80" x2="605.00" y2="233.80" stroke="#000" stroke-width="1.5"/>
<text x="599.00" y="233.20" font-size="9.2" font-weight="bold" text-anchor="middle" stroke="#000" stroke-width="0.2">*</text>
<line x1="628.75" y1="277.00" x2="658.30" y2="277.00" stroke="#000" stroke-width="1.5"/>
<text x="643.60" y="272.30" font-size="6.4" font-weight="bold" text-anchor="middle" stroke="#000" stroke-width="0.2">NS</text>
<line x1="643.20" y1="287.30" x2="658.30" y2="287.30" stroke="#000" stroke-width="1.5"/>
<text x="651.20" y="287.20" font-size="9.2" font-weight="bold" text-anchor="middle" stroke="#000" stroke-width="0.2">*</text>
<line x1="681.25" y1="285.50" x2="711.25" y2="285.50" stroke="#000" stroke-width="1.5"/>
<text x="696.75" y="284.20" font-size="9.2" font-weight="bold" text-anchor="middle" stroke="#000" stroke-width="0.2">*</text>
<line x1="696.75" y1="297.00" x2="711.25" y2="297.00" stroke="#000" stroke-width="1.5"/>
<text x="703.75" y="295.55" font-size="6.4" font-weight="bold" text-anchor="middle" stroke="#000" stroke-width="0.2">NS</text>
<text transform="translate(540.00,279.00) rotate(-90)" font-size="8.3" font-weight="bold" text-anchor="middle" stroke="#000" stroke-width="0.4">Relative&#160;&#160;expression</text>
<line x1="566.90" y1="227.50" x2="566.90" y2="246.20" stroke="#000" stroke-width="1.6"/>
<line x1="566.90" y1="253.60" x2="566.90" y2="330.60" stroke="#000" stroke-width="1.6"/>
<line x1="564.20" y1="245.40" x2="569.80" y2="250.40" stroke="#000" stroke-width="1.3"/>
<line x1="564.20" y1="252.00" x2="569.80" y2="257.00" stroke="#000" stroke-width="1.3"/>
<rect x="743.20" y="222.30" width="12.60" height="6.80" fill="#000000"/>
<text x="761.30" y="228.90" font-size="8.8" font-weight="normal" text-anchor="start" stroke="#000" stroke-width="0.35">24 h</text>
<rect x="743.20" y="236.30" width="12.60" height="6.80" fill="#5e5e5e"/>
<text x="761.30" y="242.90" font-size="8.8" font-weight="normal" text-anchor="start" stroke="#000" stroke-width="0.35">48 h</text>
<rect x="743.20" y="250.30" width="12.60" height="6.80" fill="#3b3b3b"/>
<text x="761.30" y="256.90" font-size="8.8" font-weight="normal" text-anchor="start" stroke="#000" stroke-width="0.35">72 h</text>
</svg>
</body></html>
